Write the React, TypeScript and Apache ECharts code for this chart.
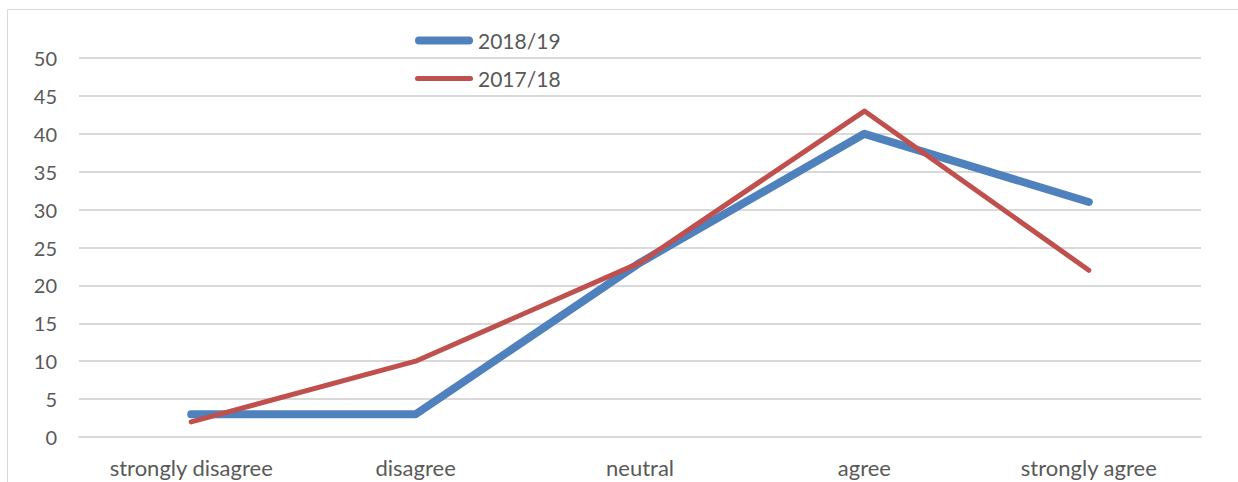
import React, { useEffect, useRef } from "react";
import * as echarts from "echarts";

const categories = ["strongly disagree", "disagree", "neutral", "agree", "strongly agree"];
const series2018_19 = [3, 3, 23, 40, 31];
const series2017_18 = [2, 10, 23, 43, 22];
const seriesNames = ["2018/19", "2017/18"];

const FONT = "Lato, 'Open Sans', sans-serif";
const TEXT = "#595959";
const GRID = "#d9d9d9";

const ICON_THICK = "path://M4,0 h50 a4,4 0 0 1 0,8 h-50 a4,4 0 0 1 0,-8z";
const ICON_THIN = "path://M2.5,0 h53 a2.5,2.5 0 0 1 0,5 h-53 a2.5,2.5 0 0 1 0,-5z";

export default function App() {
  const ref = useRef<HTMLDivElement>(null);
  useEffect(() => {
    if (!ref.current) return;
    const chart = echarts.init(ref.current, null, { renderer: "svg" });
    chart.setOption({
      animation: false,
      backgroundColor: "#ffffff",
      textStyle: { fontFamily: FONT },
      graphic: [
        { type: "line", shape: { x1: 7.5, y1: 9.5, x2: 7.5, y2: 482 }, style: { stroke: GRID, lineWidth: 1 } },
        { type: "line", shape: { x1: 7.5, y1: 9.5, x2: 1238, y2: 9.5 }, style: { stroke: GRID, lineWidth: 1 } },
      ],
      legend: {
        orient: "vertical",
        left: 410,
        top: 25,
        itemWidth: 58,
        itemHeight: 20,
        itemGap: 17,
        symbolKeepAspect: true,
        data: [
          { name: seriesNames[0], icon: ICON_THICK },
          { name: seriesNames[1], icon: ICON_THIN },
        ],
        textStyle: { color: TEXT, fontSize: 21, fontFamily: FONT },
      },
      grid: { left: 79, right: 37, top: 58, bottom: 45, containLabel: false },
      xAxis: {
        type: "category",
        data: categories,
        boundaryGap: true,
        axisLine: { show: true, lineStyle: { color: GRID, width: 2 } },
        axisTick: { show: false },
        axisLabel: { color: TEXT, fontSize: 22, fontFamily: FONT, margin: 19 },
      },
      yAxis: {
        type: "value",
        min: 0,
        max: 50,
        interval: 5,
        axisLine: { show: false },
        axisTick: { show: false },
        splitLine: { lineStyle: { color: GRID, width: 2 } },
        axisLabel: { color: TEXT, fontSize: 20, fontFamily: FONT, margin: 22 },
      },
      series: [
        {
          name: seriesNames[0],
          type: "line",
          data: series2018_19,
          symbol: "none",
          color: "#4f81bd",
          itemStyle: { color: "#4f81bd" },
          lineStyle: { width: 8, color: "#4f81bd", cap: "round", join: "round" },
        },
        {
          name: seriesNames[1],
          type: "line",
          data: series2017_18,
          symbol: "none",
          color: "#c0504d",
          itemStyle: { color: "#c0504d" },
          lineStyle: { width: 5, color: "#c0504d", cap: "round", join: "round" },
        },
      ],
    });
    return () => chart.dispose();
  }, []);
  return (
    <div
      ref={ref}
      style={{ position: "absolute", left: 0, top: 0, width: 1238, height: 482 }}
    />
  );
}
